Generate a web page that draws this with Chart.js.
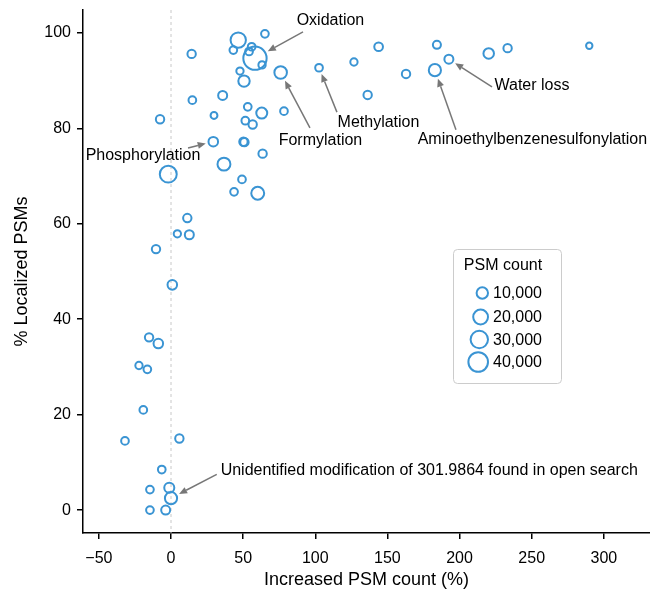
<!DOCTYPE html>
<html lang="en">
<head>
    <meta charset="UTF-8" />
    <title>Localized PSMs vs increased PSM count</title>
    <script src="https://cdn.jsdelivr.net/npm/chart.js"></script>
    <style>
        html, body { margin: 0; padding: 0; background: #fff; }
        #psmChart { display: block; }
    </style>
</head>
<body>
<canvas id="psmChart" width="650" height="591"></canvas>

<script>
    // values
    const xValues = [46.6, 65.1, 43.2, 55.9, 54.1, 58.2, 63.1, 14.3, 47.8, 50.6,
                     76.0, 14.8, 35.8, 29.8, 53.2, 62.9, 78.3, -7.6, 51.5, 56.6,
                     29.3, 50.2, 50.9, 63.5, -1.9, 36.7, 49.2, 43.7, 60.1, 11.3,
                     4.4, 12.7, -10.4, 0.9, -15.2, -8.8, -22.2, -16.4, -19.2, -31.9,
                     5.8, -6.4, -1.2, -14.6, 0.0, -14.6, -3.7, 102.6, 126.8, 143.9,
                     136.3, 162.9, 184.3, 192.6, 182.9, 220.2, 233.3, 289.9];
    const yValues = [98.5, 99.8, 96.4, 97.1, 96.1, 94.7, 93.3, 95.6, 92.0, 89.9,
                     91.7, 85.9, 86.9, 82.7, 84.5, 83.2, 83.6, 81.9, 81.6, 80.8,
                     77.2, 77.2, 77.1, 74.7, 70.4, 72.5, 69.3, 66.7, 66.4, 61.2,
                     57.9, 57.7, 54.7, 47.2, 36.2, 34.9, 30.3, 29.5, 21.0, 14.5,
                     15.0, 8.5, 4.7, 4.3, 2.5, 0.0, 0.0, 92.7, 93.9, 97.1,
                     87.0, 91.4, 97.5, 94.5, 92.2, 95.7, 96.8, 97.3];
    const psmCounts = [22000, 3000, 3000, 3000, 3000, 60000, 2500, 4000, 2500, 10000,
                       13000, 3000, 5000, 2000, 3000, 9000, 3000, 4000, 3000, 4000,
                       6000, 4000, 4000, 4000, 28000, 14000, 3000, 3000, 14000, 4000,
                       2500, 5000, 4000, 6000, 4000, 6000, 2500, 3000, 3000, 3000,
                       4000, 3000, 7000, 3000, 12000, 3000, 5000, 3000, 2500, 4500,
                       4000, 4000, 3500, 5000, 12000, 8000, 4000, 1500];

    const xTicks = [-50, 0, 50, 100, 150, 200, 250, 300];
    const yTicks = [0, 20, 40, 60, 80, 100];
    const legendCounts = [10000, 20000, 30000, 40000];

    // labelled modifications (index into the arrays above)
    const labelNames = ['Oxidation', 'Formylation', 'Methylation', 'Aminoethylbenzenesulfonylation',
                        'Water loss', 'Phosphorylation',
                        'Unidentified modification of 301.9864 found in open search'];
    const labelIndex = [5, 10, 47, 54, 53, 20, 44];

    // where the label text and the arrow tail sit (data units)
    const labelPlaces = [
        { tx: 110.5, ty: 102.5, ax: 91.5, ay: 100.2, align: 'center' },
        { tx: 103.6, ty: 77.4, ax: 96.3, ay: 80.1, align: 'center' },
        { tx: 143.8, ty: 81.3, ax: 115.0, ay: 83.4, align: 'center' },
        { tx: 250.5, ty: 77.6, ax: 197.5, ay: 79.7, align: 'center' },
        { tx: 250.2, ty: 88.9, ax: 222.5, ay: 88.7, align: 'center' },
        { tx: -19.4, ty: 74.3, ax: 11.8, ay: 75.9, align: 'center' },
        { tx: 34.4, ty: 8.2, ax: 31.7, ay: 7.5, align: 'left' }
    ];

    const BLUE = '#3a94d3';
    const FONT = "'Liberation Sans', Arial, Helvetica, sans-serif";

    function radiusFor(count) {
        return 1.6 + 4.1 * Math.sqrt(count / 10000);
    }

    function drawArrow(ctx, x1, y1, x2, y2) {
        const ang = Math.atan2(y2 - y1, x2 - x1);
        const head = 8, half = 3.5;
        const bx = x2 - head * Math.cos(ang), by = y2 - head * Math.sin(ang);
        ctx.beginPath();
        ctx.moveTo(x1, y1);
        ctx.lineTo(bx, by);
        ctx.stroke();
        ctx.beginPath();
        ctx.moveTo(x2, y2);
        ctx.lineTo(bx + half * Math.sin(ang), by - half * Math.cos(ang));
        ctx.lineTo(bx - half * Math.sin(ang), by + half * Math.cos(ang));
        ctx.closePath();
        ctx.fill();
    }

    // dashed line at x = 0, annotations and the size legend
    const extras = {
        id: 'extras',
        beforeDatasetsDraw(chart) {
            const { ctx, chartArea, scales } = chart;
            const x0 = scales.x.getPixelForValue(0);
            ctx.save();
            ctx.strokeStyle = '#c8c8c8';
            ctx.lineWidth = 1;
            ctx.setLineDash([3, 3]);
            ctx.beginPath();
            ctx.moveTo(x0, chartArea.top);
            ctx.lineTo(x0, chartArea.bottom);
            ctx.stroke();
            ctx.restore();
        },
        afterDatasetsDraw(chart) {
            const { ctx, scales } = chart;
            const sx = scales.x, sy = scales.y;
            ctx.save();
            ctx.font = '16px ' + FONT;
            ctx.textBaseline = 'middle';
            ctx.lineWidth = 1.5;
            labelNames.forEach((name, k) => {
                const p = labelPlaces[k];
                const i = labelIndex[k];
                const cx = sx.getPixelForValue(xValues[i]);
                const cy = sy.getPixelForValue(yValues[i]);
                const ax = sx.getPixelForValue(p.ax);
                const ay = sy.getPixelForValue(p.ay);
                const d = Math.hypot(cx - ax, cy - ay);
                const back = radiusFor(psmCounts[i]) + 3;
                const tipX = cx - (cx - ax) / d * back;
                const tipY = cy - (cy - ay) / d * back;
                ctx.strokeStyle = '#777';
                ctx.fillStyle = '#777';
                drawArrow(ctx, ax, ay, tipX, tipY);
                ctx.fillStyle = '#000';
                ctx.textAlign = p.align;
                ctx.fillText(name, sx.getPixelForValue(p.tx), sy.getPixelForValue(p.ty));
            });

            // legend box
            const left = 453, top = 249, w = 108, h = 134;
            ctx.strokeStyle = '#cccccc';
            ctx.lineWidth = 1;
            ctx.beginPath();
            ctx.roundRect(left + 0.5, top + 0.5, w, h, 4);
            ctx.stroke();
            ctx.fillStyle = '#000';
            ctx.textAlign = 'center';
            ctx.fillText('PSM count', 503, 266);
            const rowY = [293, 317, 339.5, 362];
            legendCounts.forEach((c, k) => {
                const r = radiusFor(c);
                ctx.strokeStyle = BLUE;
                ctx.lineWidth = 2;
                ctx.beginPath();
                ctx.arc(488 - r, rowY[k], r, 0, Math.PI * 2);
                ctx.stroke();
                ctx.fillStyle = '#000';
                ctx.textAlign = 'left';
                ctx.fillText(c.toLocaleString('en-US'), 493, rowY[k] + 1);
            });
            ctx.restore();
        }
    };

    const ctx = document.getElementById('psmChart').getContext('2d');
    const chart = new Chart(ctx, {
        type: 'bubble',
        data: {
            datasets: [{
                data: xValues.map((x, i) => ({ x: x, y: yValues[i], r: radiusFor(psmCounts[i]) })),
                borderColor: BLUE,
                backgroundColor: 'rgba(255,255,255,0)',
                borderWidth: 2,
                hoverBorderWidth: 2,
                clip: false
            }]
        },
        options: {
            responsive: false,
            animation: false,
            events: [],
            layout: { autoPadding: false, padding: { top: 10, right: 0, left: 0, bottom: 0 } },
            plugins: {
                legend: { display: false },
                tooltip: { enabled: false }
            },
            scales: {
                x: {
                    type: 'linear',
                    min: -61,
                    max: 332,
                    afterBuildTicks: s => { s.ticks = xTicks.map(v => ({ value: v })); },
                    afterFit: s => { s.height = 58; s.paddingLeft = 0; s.paddingRight = 0; },
                    grid: { drawOnChartArea: false, drawTicks: true, tickLength: 6, color: '#000', lineWidth: 1.5 },
                    border: { display: true, color: '#000', width: 1.5 },
                    ticks: {
                        color: '#000',
                        font: { family: FONT, size: 16 },
                        padding: 10,
                        maxRotation: 0,
                        callback: v => String(v).replace('-', '\u2212')
                    },
                    title: {
                        display: true,
                        text: 'Increased PSM count (%)',
                        color: '#000',
                        font: { family: FONT, size: 18 },
                        padding: { top: 0, bottom: 0 }
                    }
                },
                y: {
                    type: 'linear',
                    min: -4.8,
                    max: 104.8,
                    afterBuildTicks: s => { s.ticks = yTicks.map(v => ({ value: v })); },
                    afterFit: s => { s.width = 83; s.paddingTop = 0; s.paddingBottom = 0; },
                    grid: { drawOnChartArea: false, drawTicks: true, tickLength: 6, color: '#000', lineWidth: 1.5 },
                    border: { display: true, color: '#000', width: 1.5 },
                    ticks: {
                        color: '#000',
                        font: { family: FONT, size: 16 },
                        padding: 6
                    },
                    title: {
                        display: true,
                        text: '% Localized PSMs',
                        color: '#000',
                        font: { family: FONT, size: 18 },
                        padding: { top: 11, bottom: 0 }
                    }
                }
            }
        },
        plugins: [extras]
    });
</script>
</body>
</html>
